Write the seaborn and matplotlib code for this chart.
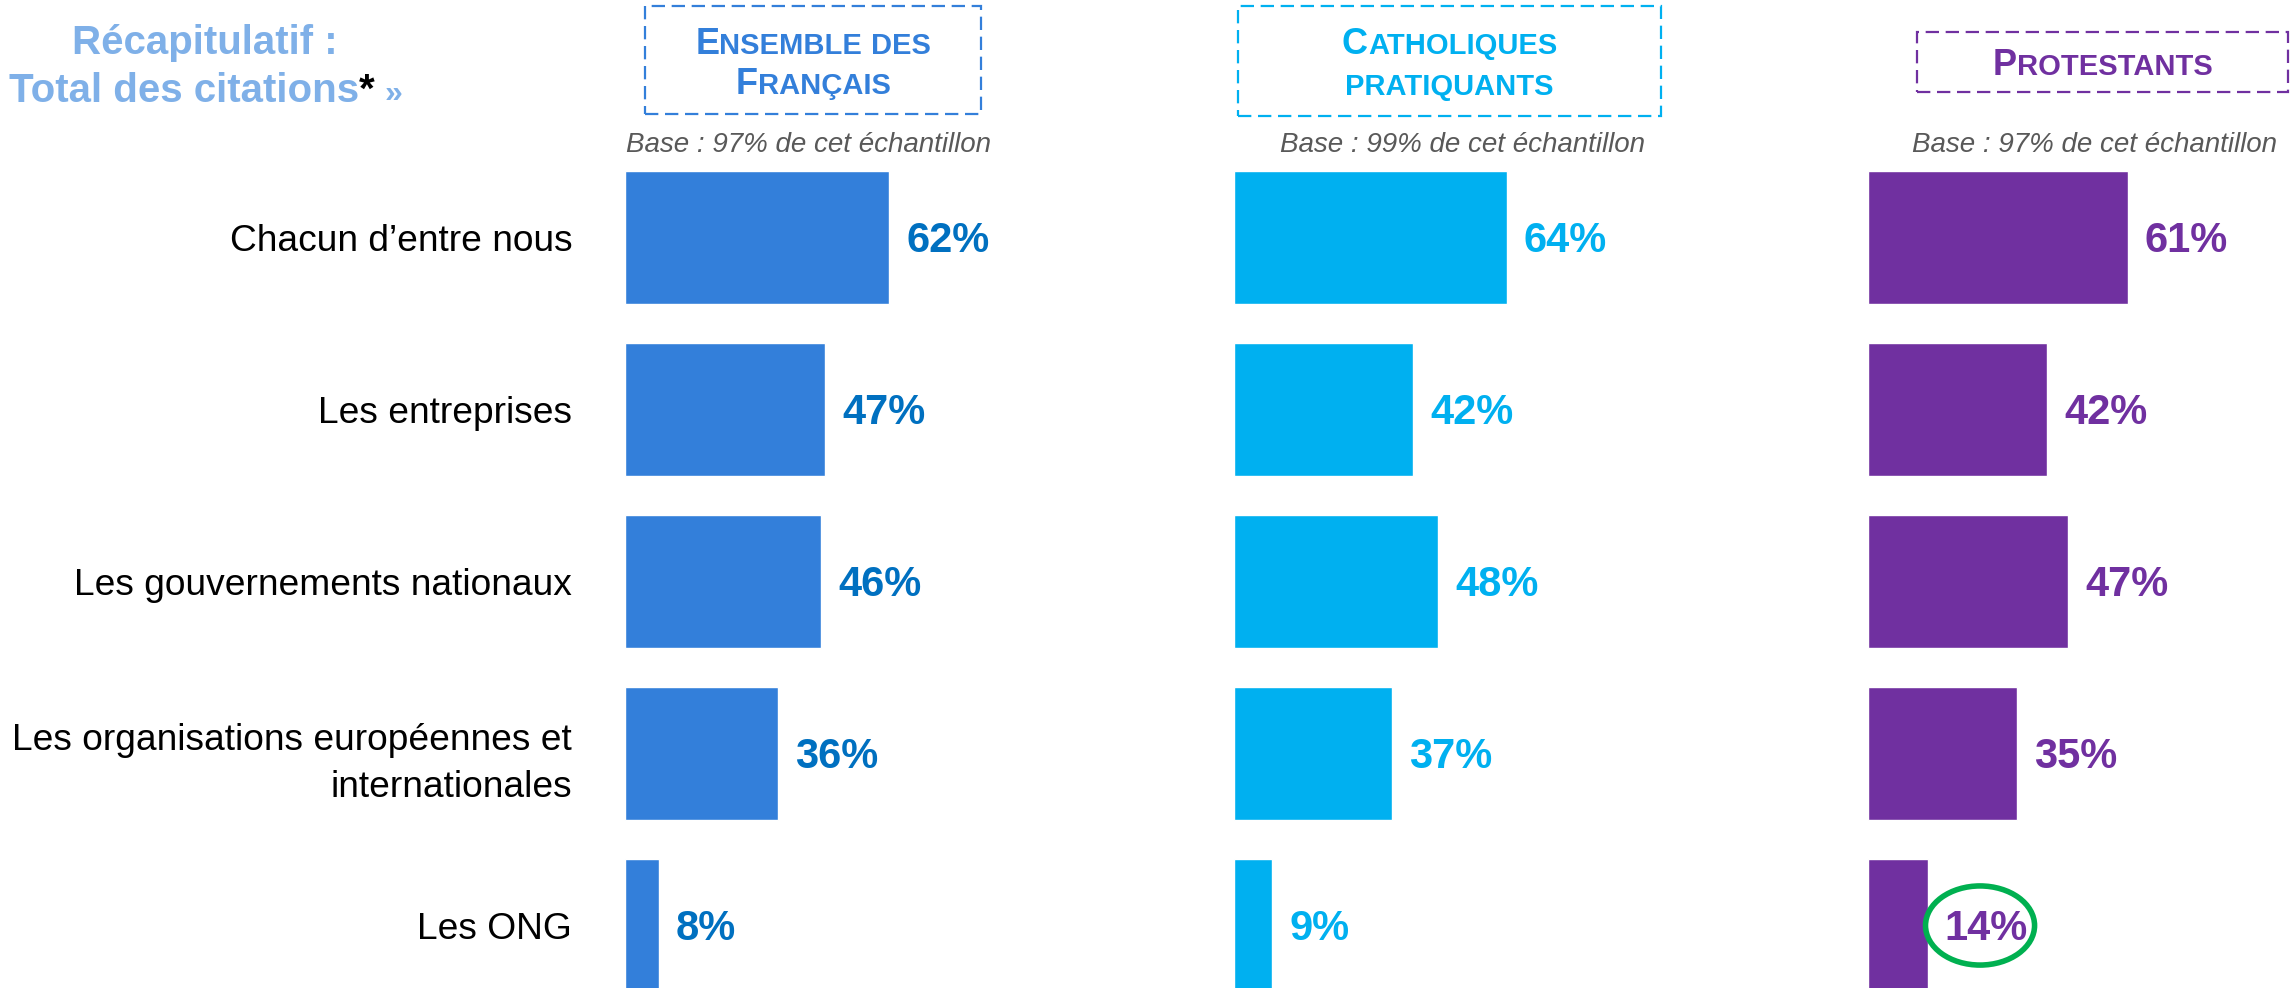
import numpy as np
import pandas as pd
import seaborn as sns
import matplotlib.pyplot as plt
from matplotlib.patches import Ellipse, Rectangle

# Data
categories = ["Chacun d\u2019entre nous", "Les entreprises", "Les gouvernements nationaux",
              "Les organisations europ\u00e9ennes et\ninternationales", "Les ONG"]
ensemble = [62, 47, 46, 36, 8]
catholiques = [64, 42, 48, 37, 9]
protestants = [61, 42, 47, 35, 14]
group_titles = ["Ensemble des\nFran\u00e7ais", "Catholiques\npratiquants", "Protestants"]
bases = ["Base : 97% de cet \u00e9chantillon", "Base : 99% de cet \u00e9chantillon",
         "Base : 97% de cet \u00e9chantillon"]

bar_colors = ["#337FDA", "#00B0F0", "#7030A0"]
label_colors = ["#0070C0", "#00B0F0", "#7030A0"]
title_blue = "#7FB0E8"

sns.set_theme(style="white")
plt.rcParams['font.family'] = ['Liberation Sans', 'DejaVu Sans']

W, H = 2295, 988
fig = plt.figure(figsize=(W / 100, H / 100), dpi=100)
renderer = fig.canvas.get_renderer()

px_per_unit = 4.26
row_px = 172
axes_left = [625, 1234, 1868]
axes_w = 400
top_px = 237.5 - row_px / 2


def fx(px):
    return px / W


def fy(px):
    return (H - px) / H


def draw_runs(runs, xc, y_base):
    # runs: list of (text, size, color, gap_before_px); centred horizontally at xc
    objs = []
    widths = []
    for s, size, col, gap in runs:
        t = fig.text(0, fy(y_base), s, fontsize=size, color=col, fontweight='bold',
                     ha='left', va='baseline')
        w = t.get_window_extent(renderer).width
        objs.append((t, gap))
        widths.append(w)
    total = sum(widths) + sum(g for _, g in objs)
    x = xc - total / 2
    for (t, gap), w in zip(objs, widths):
        x += gap
        t.set_x(fx(x))
        x += w


def smallcaps(line, big, small, color):
    # capitalised words get a large first letter, the rest is set in small caps
    runs = []
    for i, word in enumerate(line.split(" ")):
        gap = 0 if i == 0 else 0.3 * small * 100 / 72
        if word[0].isupper():
            runs.append((word[0], big, color, gap))
            gap = 0
            word = word[1:]
        if word:
            runs.append((word.upper(), small, color, gap))
    return runs


all_values = [ensemble, catholiques, protestants]
for k in range(3):
    ax = fig.add_axes([fx(axes_left[k]), 0, axes_w / W, (H - top_px) / H])
    df = pd.DataFrame({"cat": categories, "val": all_values[k]})
    sns.barplot(data=df, x="val", y="cat", orient="h", color=bar_colors[k],
                saturation=1, width=0.773, ax=ax)
    ax.set_xlim(0, axes_w / px_per_unit)
    ax.set_ylim((H - 237.5) / row_px, -0.5)
    ax.set_xlabel("")
    ax.set_ylabel("")
    ax.set_xticks([])
    sns.despine(ax=ax, left=True, bottom=True)
    if k == 0:
        ax.tick_params(axis='y', length=0, pad=38, labelsize=26.7, labelcolor='black')
        for lab in ax.get_yticklabels():
            lab.set_linespacing(1.45)
    else:
        ax.set_yticks([])
    for i, v in enumerate(all_values[k]):
        ax.text(v + 4, i + 0.02, f"{v}%", color=label_colors[k], fontsize=30,
                fontweight='bold', ha='left', va='center')
    if k == 2:
        v = all_values[k][4]
        ax.add_patch(Ellipse((v + 12.3, 4.0), 25.6, 0.46, fill=False,
                             edgecolor="#00B050", lw=4))

# header boxes
boxes = [(645, 6, 981, 114), (1238, 6, 1661, 116), (1917, 32, 2288, 92)]
for k, (x0, y0, x1, y1) in enumerate(boxes):
    fig.patches.append(Rectangle((fx(x0), fy(y1)), (x1 - x0) / W, (y1 - y0) / H,
                                 transform=fig.transFigure, fill=False,
                                 edgecolor=bar_colors[k], lw=1.6,
                                 linestyle=(0, (6, 3))))

header_bases = [[54, 94], [54, 95], [75]]
for k, title in enumerate(group_titles):
    xc = (boxes[k][0] + boxes[k][2]) / 2
    for line, yb in zip(title.split("\n"), header_bases[k]):
        draw_runs(smallcaps(line, 26, 21, bar_colors[k]), xc, yb)

base_x = [808, 1463, 2095]
for k in range(3):
    fig.text(fx(base_x[k]), fy(152), bases[k], fontsize=20, style='italic',
             color="#595959", ha='center', va='baseline')

# summary title
draw_runs([("R\u00e9capitulatif :", 29, title_blue, 0)], 205, 54)
draw_runs([("Total des citations", 29, title_blue, 0), ("*", 29, "black", 0),
           ("\u00bb", 23, title_blue, 10)], 206, 102)

fig.savefig("out.png", dpi=100)
